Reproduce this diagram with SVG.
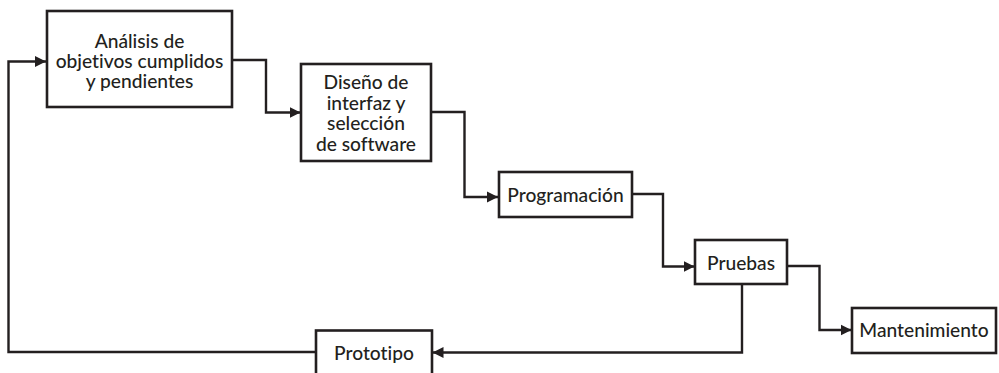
<svg xmlns="http://www.w3.org/2000/svg" width="999" height="373" viewBox="0 0 999 373">
<defs>
<marker id="ah" markerUnits="userSpaceOnUse" markerWidth="12" markerHeight="12" viewBox="0 0 12 12" refX="11" refY="6" orient="auto">
<path d="M0,0.5 L11,6 L0,11.5 Z" fill="#231f20"/>
</marker>
<style>
.box{fill:#fff;stroke:#231f20;stroke-width:2.6}
.ln{fill:none;stroke:#231f20;stroke-width:2.4}
text{font-family:Lato,"Open Sans","Liberation Sans",sans-serif;font-size:19.2px;fill:#231f20;text-anchor:middle;font-weight:500;font-variant-ligatures:none;font-feature-settings:"liga" 0}
</style>
</defs>
<rect width="999" height="373" fill="#fff"/>
<g id="connectors">
<path class="ln" d="M316,352 H8.5 V61.5 H46" marker-end="url(#ah)"/>
<path class="ln" d="M232,60 H266 V112.5 H300.5" marker-end="url(#ah)"/>
<path class="ln" d="M431,112 H464.5 V197 H498" marker-end="url(#ah)"/>
<path class="ln" d="M632,194 H663 V266.5 H694.5" marker-end="url(#ah)"/>
<path class="ln" d="M788,266 H819.5 V330 H851.5" marker-end="url(#ah)"/>
<path class="ln" d="M742,285 V352.5 H432.5" marker-end="url(#ah)"/>
</g>
<g id="n1">
<rect class="box" x="47" y="11" width="185" height="96"/>
<text x="139.5" y="48">Análisis de</text>
<text x="139.5" y="68">objetivos cumplidos</text>
<text x="139.5" y="88">y pendientes</text>
</g>
<g id="n2">
<rect class="box" x="301" y="64" width="130" height="97"/>
<text x="366" y="89">Diseño de</text>
<text x="366" y="109.5">interfaz y</text>
<text x="366" y="130">selección</text>
<text x="366" y="150.5">de software</text>
</g>
<g id="n3">
<rect class="box" x="499" y="172" width="133" height="45"/>
<text x="565.5" y="201.5">Programación</text>
</g>
<g id="n4">
<rect class="box" x="695" y="240" width="92" height="44"/>
<text x="741" y="269.5">Pruebas</text>
</g>
<g id="n5">
<rect class="box" x="852" y="308" width="144" height="45"/>
<text x="924" y="336.5">Mantenimiento</text>
</g>
<g id="n6">
<rect class="box" x="316" y="330.5" width="116" height="50"/>
<text x="374" y="359.5">Prototipo</text>
</g>
</svg>
